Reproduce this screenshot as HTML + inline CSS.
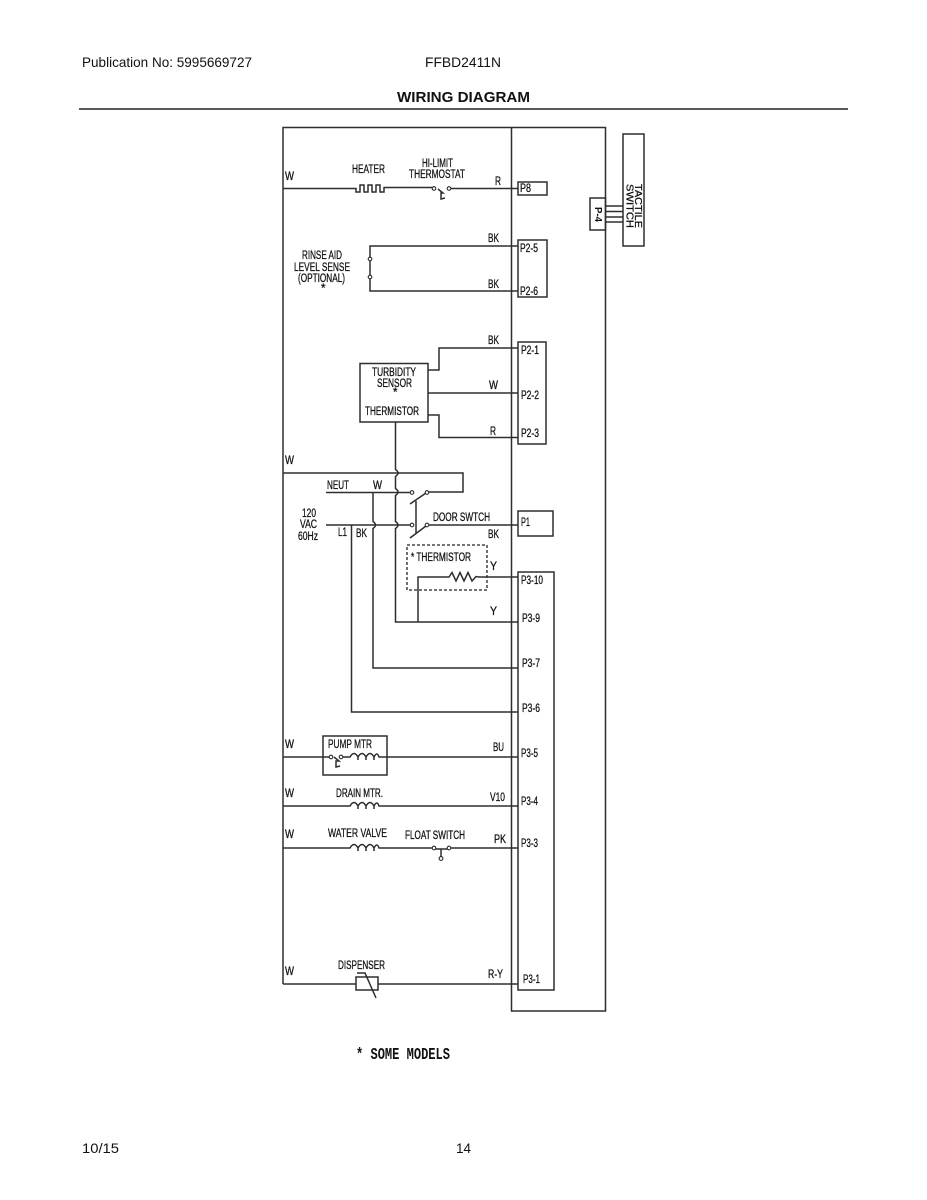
<!DOCTYPE html>
<html>
<head>
<meta charset="utf-8">
<style>
html,body{margin:0;padding:0;background:#fff;}
svg{display:block;}
text{font-family:"Liberation Sans",sans-serif;fill:#111;}
.l{font-size:11.5px;stroke:#111;stroke-width:.28px;}
.w{fill:none;stroke:#2e2e2e;stroke-width:1.5;}
.c{fill:#fff;stroke:#2a2a2a;stroke-width:1.1;}
</style>
</head>
<body>
<svg width="927" height="1200" viewBox="0 0 927 1200" xmlns="http://www.w3.org/2000/svg">
<rect width="927" height="1200" fill="#fff"/>
<!-- header -->
<text x="82" y="67" font-size="14" textLength="170" lengthAdjust="spacingAndGlyphs" fill="#222">Publication No: 5995669727</text>
<text x="425" y="67" font-size="14" textLength="76" lengthAdjust="spacingAndGlyphs" fill="#222">FFBD2411N</text>
<text x="397" y="102" font-size="15" font-weight="bold" textLength="133" lengthAdjust="spacingAndGlyphs">WIRING DIAGRAM</text>
<line x1="79" y1="109" x2="848" y2="109" stroke="#222" stroke-width="1.5"/>
<text x="82" y="1153" font-size="14" textLength="37" lengthAdjust="spacingAndGlyphs">10/15</text>
<text x="456" y="1153" font-size="14" textLength="15" lengthAdjust="spacingAndGlyphs">14</text>
<text x="356" y="1059" font-size="17" font-weight="bold" textLength="94" lengthAdjust="spacingAndGlyphs" style='font-family:"Liberation Mono",monospace'>* SOME MODELS</text>

<!-- frames -->
<path class="w" d="M283 984V127.500H605.500V1011H511.500V127.500"/>
<rect class="w" x="623" y="134" width="21" height="112"/>
<rect class="w" x="590" y="198" width="15.500" height="32"/>
<path class="w" d="M606 206H623M606 211.500H623M606 217H623M606 222H623"/>
<text transform="translate(595,207) rotate(90)" font-size="10.500" font-weight="bold" textLength="15" lengthAdjust="spacingAndGlyphs">P-4</text>
<text transform="translate(635,184) rotate(90)" font-size="10.500" stroke="#111" stroke-width=".25" textLength="44" lengthAdjust="spacingAndGlyphs">TACTILE</text>
<text transform="translate(626.500,184) rotate(90)" font-size="10.500" stroke="#111" stroke-width=".25" textLength="44" lengthAdjust="spacingAndGlyphs">SWITCH</text>

<!-- connectors -->
<rect class="w" x="518" y="182" width="29" height="13"/>
<rect class="w" x="518" y="240" width="29" height="57"/>
<rect class="w" x="518" y="342" width="28" height="102"/>
<rect class="w" x="518" y="511" width="35" height="25"/>
<rect class="w" x="518" y="572" width="36" height="418"/>

<!-- heater row -->
<path class="w" d="M283 188.500H356V192H360V185H364V192H368V185H372V192H376V185H380V192H384V187.500H434M449 188.500H518"/>
<path class="w" d="M438 189L443 193H441V199L445 198"/>
<circle class="c" cx="434" cy="188.500" r="1.800"/><circle class="c" cx="449" cy="188.500" r="1.800"/>
<!-- rinse aid -->
<path class="w" d="M518 246H370V291H518"/>
<circle class="c" cx="370" cy="259" r="1.800"/><circle class="c" cx="370" cy="277" r="1.800"/>
<!-- turbidity -->
<rect class="w" x="360" y="363.500" width="68" height="58.500"/>
<path class="w" d="M428 370H439V348H518M428 393H518M428 415H439V437.500H518"/>
<path class="w" d="M395.500 422V469.500Q400.500 473 395.500 476.500V488.500Q400.500 492 395.500 495.500V521.500Q400.500 525 395.500 528.500V622H518"/>
<!-- power -->
<path class="w" d="M283 473H463V492H427"/>
<path class="w" d="M326 492.500H412M326 525H373"/>
<path class="w" d="M373 492.500V521.500Q378 525 373 528.500V668H518"/>
<path class="w" d="M373 525H412M427 525H518"/>
<path class="w" d="M351.500 525V712H518"/>
<path class="w" d="M410 504L426 493M410 538L426 526M416 501V534"/>
<circle class="c" cx="412" cy="492.500" r="1.800"/><circle class="c" cx="427" cy="492.500" r="1.800"/>
<circle class="c" cx="412" cy="525" r="1.800"/><circle class="c" cx="427" cy="525" r="1.800"/>
<!-- thermistor -->
<rect x="407" y="545" width="80" height="45" fill="none" stroke="#222" stroke-width="1.300" stroke-dasharray="3 2"/>
<path class="w" d="M418 622V577H449L452 572.500L456 581L460 572.500L464 581L468 572.500L472 581L476 576.500L479 577H518"/>
<!-- pump -->
<rect class="w" x="323" y="736" width="64" height="39"/>
<path class="w" d="M283 757H331M341 757H350Q354 750 358 757V760M358 757Q362 750 366 757V760M366 757Q370 750 374 757V760M374 757Q377 751 379 757H518"/>
<path class="w" d="M334 757L339 761H336V767L340 766"/>
<circle class="c" cx="331" cy="757" r="1.800"/><circle class="c" cx="341" cy="757" r="1.800"/>
<!-- drain -->
<path class="w" d="M283 806H350Q354 799 358 806V809M358 806Q362 799 366 806V809M366 806Q370 799 374 806V809M374 806Q377 800 379 806H518"/>
<!-- water -->
<path class="w" d="M283 848H350Q354 841 358 848V851M358 848Q362 841 366 848V851M366 848Q370 841 374 848V851M374 848Q377 842 379 848H434M449 848H518"/>
<path class="w" d="M435 849L448 849M441 849V857"/>
<circle class="c" cx="434" cy="848" r="1.800"/><circle class="c" cx="449" cy="848" r="1.800"/><circle class="c" cx="441" cy="858.500" r="1.900"/>
<!-- dispenser -->
<path class="w" d="M283 984H356M378 984H518"/>
<rect class="w" x="356" y="977" width="22" height="13"/>
<path class="w" d="M357 973H365L376 998"/>

<!-- labels -->
<g class="l">
<text x="285" y="180" textLength="9" lengthAdjust="spacingAndGlyphs">W</text>
<text x="352" y="173" textLength="33" lengthAdjust="spacingAndGlyphs">HEATER</text>
<text x="422" y="167" textLength="31" lengthAdjust="spacingAndGlyphs">HI-LIMIT</text>
<text x="409" y="178" textLength="56" lengthAdjust="spacingAndGlyphs">THERMOSTAT</text>
<text x="495" y="185" textLength="6" lengthAdjust="spacingAndGlyphs">R</text>
<text x="520" y="192" textLength="11" lengthAdjust="spacingAndGlyphs">P8</text>
<text x="488" y="242" textLength="11" lengthAdjust="spacingAndGlyphs">BK</text>
<text x="488" y="288" textLength="11" lengthAdjust="spacingAndGlyphs">BK</text>
<text x="520" y="252" textLength="18" lengthAdjust="spacingAndGlyphs">P2-5</text>
<text x="520" y="295" textLength="18" lengthAdjust="spacingAndGlyphs">P2-6</text>
<text x="302" y="259" textLength="40" lengthAdjust="spacingAndGlyphs">RINSE AID</text>
<text x="294" y="271" textLength="56" lengthAdjust="spacingAndGlyphs">LEVEL SENSE</text>
<text x="298" y="282" textLength="47" lengthAdjust="spacingAndGlyphs">(OPTIONAL)</text>
<text x="321" y="292" textLength="5">*</text>
<text x="488" y="344" textLength="11" lengthAdjust="spacingAndGlyphs">BK</text>
<text x="489" y="389" textLength="9" lengthAdjust="spacingAndGlyphs">W</text>
<text x="490" y="435" textLength="6" lengthAdjust="spacingAndGlyphs">R</text>
<text x="521" y="354" textLength="18" lengthAdjust="spacingAndGlyphs">P2-1</text>
<text x="521" y="399" textLength="18" lengthAdjust="spacingAndGlyphs">P2-2</text>
<text x="521" y="437" textLength="18" lengthAdjust="spacingAndGlyphs">P2-3</text>
<text x="372" y="376" textLength="44" lengthAdjust="spacingAndGlyphs">TURBIDITY</text>
<text x="377" y="387" textLength="35" lengthAdjust="spacingAndGlyphs">SENSOR</text>
<text x="393" y="396" textLength="5">*</text>
<text x="365" y="415" textLength="54" lengthAdjust="spacingAndGlyphs">THERMISTOR</text>
<text x="285" y="464" textLength="9" lengthAdjust="spacingAndGlyphs">W</text>
<text x="327" y="489" textLength="22" lengthAdjust="spacingAndGlyphs">NEUT</text>
<text x="373" y="489" textLength="9" lengthAdjust="spacingAndGlyphs">W</text>
<text x="302" y="517" textLength="14" lengthAdjust="spacingAndGlyphs">120</text>
<text x="300" y="528" textLength="17" lengthAdjust="spacingAndGlyphs">VAC</text>
<text x="298" y="540" textLength="20" lengthAdjust="spacingAndGlyphs">60Hz</text>
<text x="338" y="536" textLength="9" lengthAdjust="spacingAndGlyphs">L1</text>
<text x="356" y="537" textLength="11" lengthAdjust="spacingAndGlyphs">BK</text>
<text x="433" y="521" textLength="57" lengthAdjust="spacingAndGlyphs">DOOR SWTCH</text>
<text x="488" y="538" textLength="11" lengthAdjust="spacingAndGlyphs">BK</text>
<text x="521" y="526" textLength="9" lengthAdjust="spacingAndGlyphs">P1</text>
<text x="411" y="561" textLength="60" lengthAdjust="spacingAndGlyphs">* THERMISTOR</text>
<text x="490" y="570" textLength="7" lengthAdjust="spacingAndGlyphs">Y</text>
<text x="490" y="615" textLength="7" lengthAdjust="spacingAndGlyphs">Y</text>
<text x="521" y="584" textLength="22" lengthAdjust="spacingAndGlyphs">P3-10</text>
<text x="522" y="622" textLength="18" lengthAdjust="spacingAndGlyphs">P3-9</text>
<text x="522" y="667" textLength="18" lengthAdjust="spacingAndGlyphs">P3-7</text>
<text x="522" y="712" textLength="18" lengthAdjust="spacingAndGlyphs">P3-6</text>
<text x="521" y="757" textLength="17" lengthAdjust="spacingAndGlyphs">P3-5</text>
<text x="521" y="805" textLength="17" lengthAdjust="spacingAndGlyphs">P3-4</text>
<text x="521" y="847" textLength="17" lengthAdjust="spacingAndGlyphs">P3-3</text>
<text x="523" y="983" textLength="17" lengthAdjust="spacingAndGlyphs">P3-1</text>
<text x="285" y="748" textLength="9" lengthAdjust="spacingAndGlyphs">W</text>
<text x="328" y="748" textLength="44" lengthAdjust="spacingAndGlyphs">PUMP MTR</text>
<text x="493" y="751" textLength="11" lengthAdjust="spacingAndGlyphs">BU</text>
<text x="285" y="797" textLength="9" lengthAdjust="spacingAndGlyphs">W</text>
<text x="336" y="797" textLength="47" lengthAdjust="spacingAndGlyphs">DRAIN MTR.</text>
<text x="490" y="801" textLength="15" lengthAdjust="spacingAndGlyphs">V10</text>
<text x="285" y="838" textLength="9" lengthAdjust="spacingAndGlyphs">W</text>
<text x="328" y="837" textLength="59" lengthAdjust="spacingAndGlyphs">WATER VALVE</text>
<text x="405" y="839" textLength="60" lengthAdjust="spacingAndGlyphs">FLOAT SWITCH</text>
<text x="494" y="843" textLength="12" lengthAdjust="spacingAndGlyphs">PK</text>
<text x="285" y="975" textLength="9" lengthAdjust="spacingAndGlyphs">W</text>
<text x="338" y="969" textLength="47" lengthAdjust="spacingAndGlyphs">DISPENSER</text>
<text x="488" y="978" textLength="15" lengthAdjust="spacingAndGlyphs">R-Y</text>
</g>
</svg>
</body>
</html>
